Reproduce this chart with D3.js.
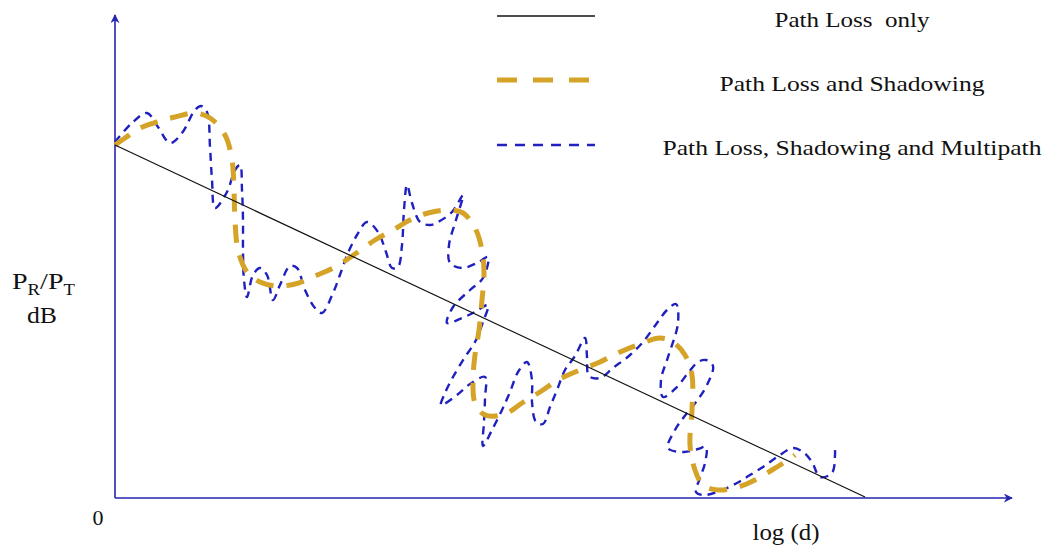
<!DOCTYPE html>
<html>
<head>
<meta charset="utf-8">
<script src="https://cdn.jsdelivr.net/npm/d3@7"></script>
<style>
  html, body { margin: 0; padding: 0; background: #ffffff; }
  svg { display: block; }
  text { font-family: "Liberation Serif", "DejaVu Serif", serif; fill: #111; }
</style>
</head>
<body>
<svg id="chart" width="1047" height="550"></svg>
<script>
// ---- data (log(d) units on x, dB-like units on y) ----
const seriesNames = ["Path Loss  only", "Path Loss and Shadowing", "Path Loss, Shadowing and Multipath"];
const xLabel = "log (d)";
const originLabel = "0";

const pathLossOnly = [[0, 35.3], [75, 0.1]];

const shadowing = [
  [0,35.3],[1.0,36.0],[2.5,37.0],[4.2,37.6],[6.0,38.1],[8.0,38.5],[9.5,38.0],[11.0,36.3],
  [11.7,33.8],[11.9,30.8],[12.0,27.8],[12.3,24.8],[13.2,22.6],[14.5,21.6],[16.2,21.2],
  [18.0,21.4],[20.0,22.2],[22.2,23.2],[24.0,24.4],[26.0,25.8],[27.8,26.8],[29.5,27.8],
  [31.3,28.5],[33.3,28.8],[34.8,28.5],[36.0,27.0],[36.7,24.8],[36.9,22.3],[36.7,19.8],
  [36.4,16.8],[36.0,14.3],[35.8,11.8],[36.0,9.5],[37.0,8.3],[39.0,8.4],[40.7,9.5],
  [42.5,10.6],[44.3,11.8],[46.0,12.6],[48.5,13.6],[50.5,14.6],[52.5,15.4],[54.5,16.0],
  [55.8,15.6],[57.0,14.3],[57.7,12.3],[57.7,8.8],[57.5,5.3],[58.0,2.8],[58.8,1.3],
  [60.3,0.8],[62.3,1.1],[64.0,1.8],[65.7,2.8],[67.3,3.8],[68.0,4.3]
];

const multipath = [
  [0,35.6],[1.8,37.6],[3.2,38.5],[4.3,37.1],[5.5,35.5],[6.7,36.5],[8.0,38.8],[8.6,39.2],
  [9.2,38.6],[9.5,35.1],[9.7,31.8],[10.0,29.0],[11.2,30.6],[12.0,32.8],[12.5,33.3],
  [12.7,30.8],[12.8,27.8],[12.8,24.8],[12.9,21.8],[13.2,20.1],[13.8,22.3],[14.5,23.0],
  [15.2,22.3],[15.8,19.8],[16.5,21.3],[17.5,23.2],[18.2,23.0],[19.0,20.8],[20.0,19.0],
  [20.7,18.5],[21.8,20.5],[22.6,22.6],[23.3,24.5],[24.2,26.3],[25.2,27.6],[26.3,26.6],
  [27.1,24.6],[27.7,23.0],[28.3,23.1],[28.7,25.3],[28.9,28.8],[29.2,31.3],[29.7,29.5],
  [30.5,27.6],[31.5,27.3],[32.3,27.6],[33.7,28.6],[34.8,30.3],[34.1,27.8],[33.4,25.3],
  [33.5,23.5],[34.7,23.0],[36.2,23.5],[37.3,24.1],[36.8,22.0],[35.5,20.8],[33.8,19.1],
  [33.2,17.5],[34.7,18.0],[36.0,18.6],[37.3,19.3],[36.8,17.6],[36.0,15.6],[35.0,14.1],
  [33.8,12.1],[33.0,10.5],[32.6,9.3],[34.2,10.3],[35.5,11.4],[37.0,12.1],[37.0,10.0],
  [36.9,7.6],[36.8,5.2],[37.7,6.8],[38.7,8.8],[39.5,10.6],[40.3,12.6],[41.2,13.6],
  [41.7,11.8],[41.7,9.6],[42.1,7.6],[42.8,7.4],[43.5,9.1],[44.2,10.8],[45.0,12.8],
  [46.0,14.2],[47.0,16.0],[47.2,14.1],[47.4,12.2],[48.5,12.0],[49.8,13.0],[51.5,14.3],
  [52.8,15.6],[54.2,17.5],[55.2,18.8],[56.1,19.4],[56.3,17.5],[55.3,14.1],[54.6,11.8],
  [54.8,10.1],[56.1,11.0],[57.3,12.5],[58.3,13.6],[59.1,13.8],[59.8,13.2],[59.2,11.3],
  [58.1,9.6],[56.9,8.1],[56.0,6.8],[55.3,5.0],[56.9,4.6],[58.3,4.9],[59.1,5.1],
  [59.0,3.5],[58.5,2.0],[58.1,0.6],[58.8,0.3],[60.2,0.6],[62.2,1.5],[63.5,2.3],
  [64.8,3.1],[66.2,4.1],[67.8,5.0],[68.8,4.6],[69.7,3.6],[70.5,2.1],[71.7,2.5],
  [72.0,4.3],[72.0,4.8]
];

// ---- drawing ----
const svg = d3.select("#chart");
const axisColor = "#2424b0";
const goldColor = "#d5a328";
const blueColor = "#2020bf";

const x = d3.scaleLinear().domain([0, 89.5]).range([115, 1010]);
const y = d3.scaleLinear().domain([0, 48]).range([498, 18]);

const defs = svg.append("defs");
defs.append("marker")
  .attr("id", "arrow")
  .attr("viewBox", "0 0 10 10")
  .attr("refX", 9).attr("refY", 5)
  .attr("markerWidth", 9).attr("markerHeight", 9)
  .attr("markerUnits", "userSpaceOnUse")
  .attr("orient", "auto")
  .append("path")
  .attr("d", "M0,0 L10,5 L0,10 L3,5 Z")
  .attr("fill", axisColor);

// axes
svg.append("line")
  .attr("x1", x(0)).attr("y1", y(0))
  .attr("x2", x(0)).attr("y2", y(48) - 3)
  .attr("stroke", axisColor).attr("stroke-width", 1.6)
  .attr("marker-end", "url(#arrow)");
svg.append("line")
  .attr("x1", x(0)).attr("y1", y(0))
  .attr("x2", x(89.5) + 2).attr("y2", y(0))
  .attr("stroke", axisColor).attr("stroke-width", 1.6)
  .attr("marker-end", "url(#arrow)");

const smooth = d3.line().x(d => x(d[0])).y(d => y(d[1])).curve(d3.curveCatmullRom.alpha(0.5));
const straight = d3.line().x(d => x(d[0])).y(d => y(d[1]));

// multipath (blue, thin dashed)
svg.append("path")
  .attr("d", smooth(multipath))
  .attr("fill", "none")
  .attr("stroke", blueColor)
  .attr("stroke-width", 2.4)
  .attr("stroke-dasharray", "8,6");

// shadowing (gold, thick dashed)
svg.append("path")
  .attr("d", smooth(shadowing))
  .attr("fill", "none")
  .attr("stroke", goldColor)
  .attr("stroke-width", 5)
  .attr("stroke-dasharray", "18,13");

// path loss only
svg.append("path")
  .attr("d", straight(pathLossOnly))
  .attr("fill", "none")
  .attr("stroke", "#111")
  .attr("stroke-width", 1.2);

// legend
const legendStyles = [
  { stroke: "#111", width: 1.3, dash: null, y: 16, ty: 27, tw: 155 },
  { stroke: goldColor, width: 5, dash: "20,16", y: 80, ty: 91, tw: 265 },
  { stroke: blueColor, width: 2.6, dash: "10,8", y: 145, ty: 155, tw: 379 }
];
seriesNames.forEach((name, i) => {
  const s = legendStyles[i];
  svg.append("line")
    .attr("x1", 497).attr("x2", 595)
    .attr("y1", s.y).attr("y2", s.y)
    .attr("stroke", s.stroke).attr("stroke-width", s.width)
    .attr("stroke-dasharray", s.dash);
  svg.append("text")
    .attr("x", 852).attr("y", s.ty)
    .attr("text-anchor", "middle")
    .attr("font-size", 22)
    .attr("textLength", s.tw)
    .attr("lengthAdjust", "spacingAndGlyphs")
    .style("white-space", "pre")
    .attr("xml:space", "preserve")
    .text(name);
});

// y label  P_R/P_T  dB
const ylg = svg.append("g").attr("transform", "translate(12,289) scale(1.17,1)");
const yl = ylg.append("text").attr("x", 0).attr("y", 0).attr("font-size", 24);
yl.append("tspan").text("P");
yl.append("tspan").attr("font-size", 16).attr("dy", 6).text("R");
yl.append("tspan").attr("dy", -6).text("/P");
yl.append("tspan").attr("font-size", 16).attr("dy", 6).text("T");
svg.append("text").attr("x", 42).attr("y", 323).attr("text-anchor", "middle")
  .attr("font-size", 24).attr("textLength", 30).attr("lengthAdjust", "spacingAndGlyphs")
  .text("dB");

// origin and x label
svg.append("text").attr("x", 98).attr("y", 525).attr("text-anchor", "middle")
  .attr("font-size", 22).text(originLabel);
svg.append("text").attr("x", 786).attr("y", 540).attr("text-anchor", "middle")
  .attr("font-size", 24).attr("textLength", 67).attr("lengthAdjust", "spacingAndGlyphs")
  .text(xLabel);
</script>
</body>
</html>
